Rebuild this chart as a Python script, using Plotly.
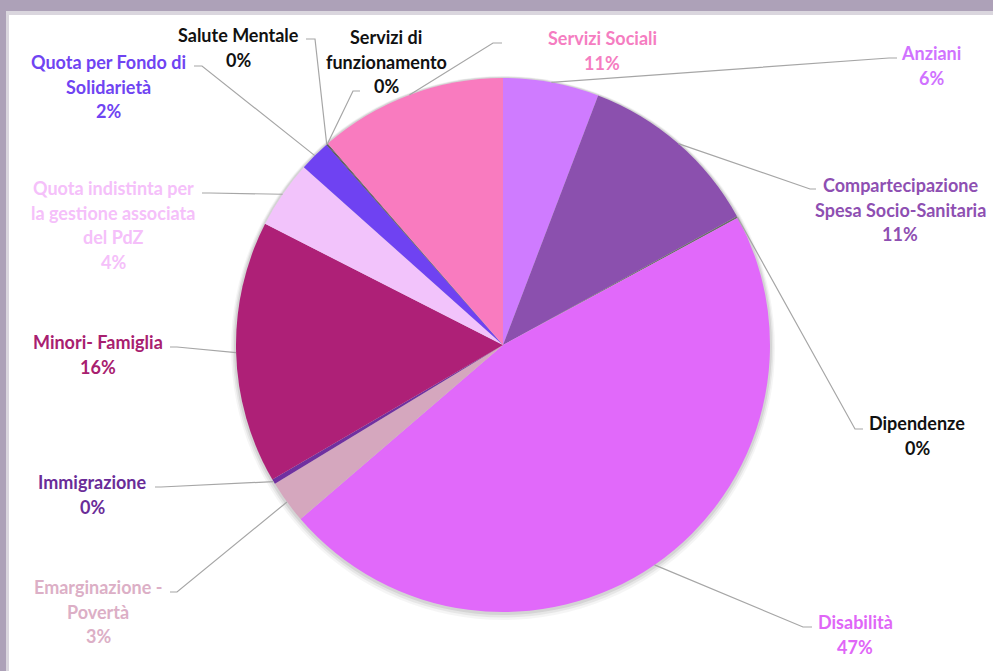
import math
import plotly.graph_objects as go

W, H = 993, 671

# ---------------- data ----------------
categories = [
    "Anziani",
    "Compartecipazione<br>Spesa Socio-Sanitaria",
    "Dipendenze",
    "Disabilità",
    "Emarginazione -<br>Povertà",
    "Immigrazione",
    "Minori- Famiglia",
    "Quota indistinta per<br>la gestione associata<br>del PdZ",
    "Quota per Fondo di<br>Solidarietà",
    "Salute Mentale",
    "Servizi di<br>funzionamento",
    "Servizi Sociali",
]
values = [5.8, 11.2, 0.1, 46.6, 2.6, 0.3, 15.9, 4.1, 1.9, 0.05, 0.05, 11.4]
slice_colors = ["#CF7BFF", "#8B50AE", "#6A6A6A", "#E169FA", "#D5A7BE", "#7030A0",
                "#AE2077", "#F2C3FB", "#6F42F2", "#404040", "#595959", "#F97BBF"]
text_colors = ["#D072FF", "#8E4FB2", "#111111", "#E066F7", "#DCAFC6", "#6A2C98",
               "#A8206F", "#F5C0FA", "#6F44F2", "#111111", "#111111", "#F57DC1"]

# ---------------- layout constants (pixels) ----------------
CX, CY, R = 503, 345, 267
LINE_GAP = 24.7
# label first-line centre positions
label_pos = [(931, 53), (900, 185), (917, 423), (855, 622), (98, 587), (92, 482),
             (97.5, 342), (113, 188), (108, 62), (238, 35), (386, 37), (602, 38)]
# leader line elbows and ends (pixels)
leader_pts = [
    [(889, 58), (897, 58)],
    [(810, 189), (816, 189)],
    [(855, 429), (863, 429)],
    [(803, 627), (812, 627)],
    [(177, 592), (170, 592)],
    [(161, 487), (155, 487)],
    [(177, 347), (170, 347)],
    [(210, 193), (202, 193)],
    [(202, 66), (194, 66)],
    [(315, 39), (306, 39)],
    [(353, 91), (360, 91)],
    [(493, 43), (502, 43)],
]


def px(x):
    return x / W


def py(y):
    return 1 - y / H


fig = go.Figure()
fig.add_trace(go.Pie(
    labels=[c.replace("<br>", " ") for c in categories],
    values=values,
    sort=False,
    direction="clockwise",
    rotation=0,
    marker=dict(colors=slice_colors, line=dict(width=0)),
    textinfo="none",
    hoverinfo="label+percent",
    showlegend=False,
    domain=dict(x=[px(CX - R), px(CX + R)], y=[py(CY + R), py(CY - R)]),
))

shapes = []
# window frame
shapes.append(dict(type="rect", xref="paper", yref="paper", x0=0, x1=1, y0=py(15), y1=1,
                   fillcolor="#DAD6DE", line=dict(width=0), layer="below"))
shapes.append(dict(type="rect", xref="paper", yref="paper", x0=0, x1=px(9), y0=0, y1=1,
                   fillcolor="#DAD6DE", line=dict(width=0), layer="below"))
shapes.append(dict(type="rect", xref="paper", yref="paper", x0=0, x1=1, y0=py(11), y1=1,
                   fillcolor="#ADA1B8", line=dict(width=0), layer="below"))
shapes.append(dict(type="rect", xref="paper", yref="paper", x0=0, x1=px(6), y0=0, y1=1,
                   fillcolor="#ADA1B8", line=dict(width=0), layer="below"))
# soft shadow around pie
for extra, dy, op in [(5, 3, 0.04), (3.5, 2, 0.06), (2, 1, 0.08)]:
    shapes.append(dict(type="circle", xref="paper", yref="paper",
                       x0=px(CX - R - extra), x1=px(CX + R + extra),
                       y0=py(CY + dy + R + extra), y1=py(CY + dy - R - extra),
                       fillcolor=f"rgba(0,0,0,{op})", line=dict(width=0), layer="below"))

# leader lines from slice mid-points (computed from the data)
total = sum(values)
cum = 0.0
annotations = []
for i, v in enumerate(values):
    mid = (cum + v / 2) / total
    cum += v
    ang = 2 * math.pi * mid
    sx = CX + R * math.sin(ang)
    sy = CY - R * math.cos(ang)
    (ex, ey), (fx, fy) = leader_pts[i]
    path = f"M {px(sx)},{py(sy)} L {px(ex)},{py(ey)} L {px(fx)},{py(fy)}"
    shapes.append(dict(type="path", xref="paper", yref="paper", path=path,
                       line=dict(color="#A6A6A6", width=1.2)))

    pct = f"{round(v / total * 100)}%"
    lines = categories[i].split("<br>") + [pct]
    lx, ly = label_pos[i]
    for k, t in enumerate(lines):
        annotations.append(dict(
            x=px(lx), y=py(ly + k * LINE_GAP), xref="paper", yref="paper",
            text=f"<b>{t}</b>", showarrow=False, xanchor="center", yanchor="middle",
            font=dict(family="Lato, 'Open Sans', sans-serif", size=18, color=text_colors[i]),
        ))

fig.update_layout(
    width=W, height=H,
    margin=dict(l=0, r=0, t=0, b=0),
    paper_bgcolor="white",
    plot_bgcolor="white",
    shapes=shapes,
    annotations=annotations,
)

fig.write_html(
    "out.html",
    config={"displayModeBar": False},
    post_script="document.body.style.margin='0px';document.body.style.overflow='hidden';",
)
